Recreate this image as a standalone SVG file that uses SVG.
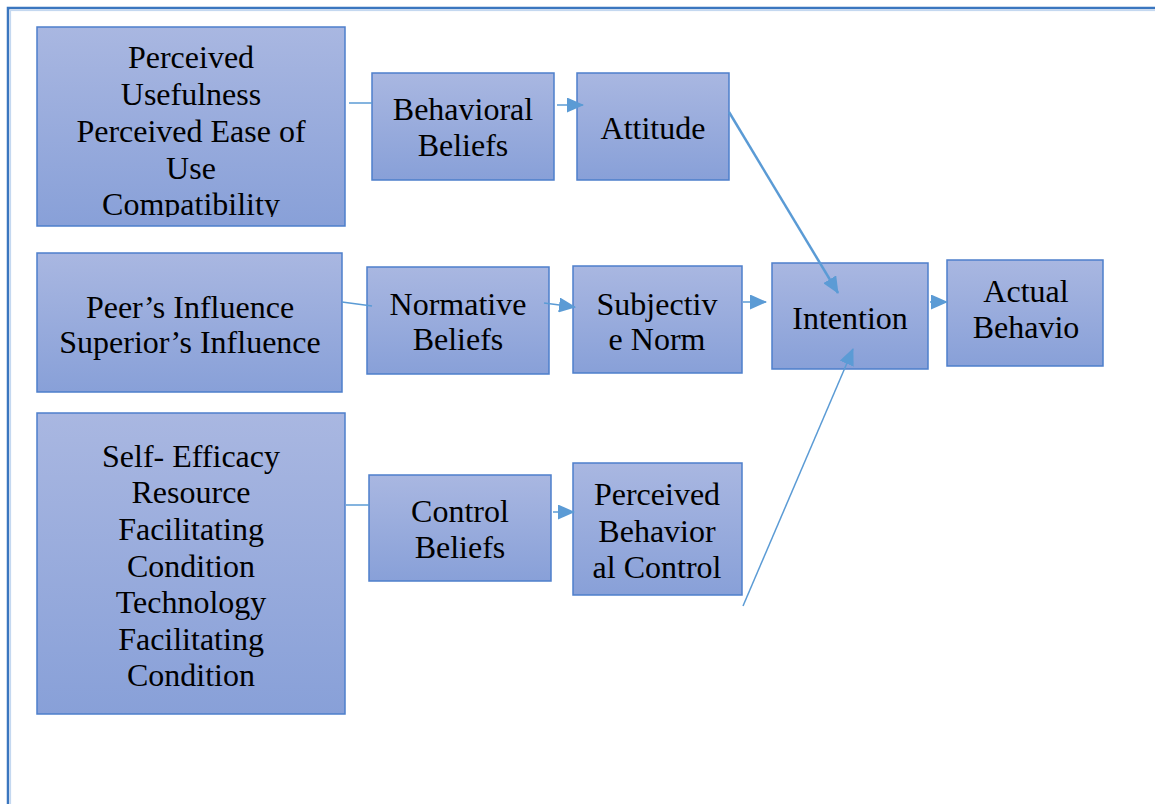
<svg xmlns="http://www.w3.org/2000/svg" width="1155" height="804" viewBox="0 0 1155 804">
<defs>
<linearGradient id="g" x1="0" y1="0" x2="0" y2="1">
<stop offset="0" stop-color="#a9b7e1"/>
<stop offset="1" stop-color="#88a0d8"/>
</linearGradient>
<marker id="ah" markerUnits="userSpaceOnUse" markerWidth="17" markerHeight="15" refX="16" refY="7.5" orient="auto">
<path d="M0,0 L17,7.5 L0,15 z" fill="#5b9bd5"/>
</marker>
<clipPath id="clipA"><rect x="37" y="27" width="308" height="190"/></clipPath>
</defs>
<style>
.box{fill:url(#g);stroke:#4d7fcb;stroke-width:1.5}
.t{font-family:"Liberation Serif","Times New Roman",serif;font-size:32px;fill:#000;text-anchor:middle}
.c{stroke:#5b9bd5;stroke-width:1.5;fill:none}
.ca{stroke:#5b9bd5;stroke-width:1.5;fill:none;marker-end:url(#ah)}
</style>
<rect width="1155" height="804" fill="#fff"/>
<rect x="8" y="8" width="1200" height="900" fill="none" stroke="#3a76bf" stroke-width="2.5"/>
<rect x="10.5" y="10.5" width="1200" height="900" fill="none" stroke="#c4d8f0" stroke-width="1.2"/>

<g id="n-pu">
<rect class="box" x="37" y="27" width="308" height="199"/>
<g clip-path="url(#clipA)">
<text class="t" x="191" y="68">Perceived</text>
<text class="t" x="191" y="105">Usefulness</text>
<text class="t" x="191" y="142">Perceived Ease of</text>
<text class="t" x="191" y="179">Use</text>
<text class="t" x="191" y="215">Compatibility</text>
</g>
</g>
<g id="n-bb">
<rect class="box" x="372" y="73" width="182" height="107"/>
<text class="t" x="463" y="120">Behavioral</text>
<text class="t" x="463" y="156">Beliefs</text>
</g>
<g id="n-att">
<rect class="box" x="577" y="73" width="152" height="107"/>
<text class="t" x="653" y="139">Attitude</text>
</g>
<g id="n-peer">
<rect class="box" x="37" y="253" width="305" height="139"/>
<text class="t" x="190" y="318">Peer’s Influence</text>
<text class="t" x="190" y="353">Superior’s Influence</text>
</g>
<g id="n-nb">
<rect class="box" x="367" y="267" width="182" height="107"/>
<text class="t" x="458" y="315">Normative</text>
<text class="t" x="458" y="350">Beliefs</text>
</g>
<g id="n-sn">
<rect class="box" x="573" y="266" width="169" height="107"/>
<text class="t" x="657" y="315">Subjectiv</text>
<text class="t" x="657" y="350">e Norm</text>
</g>
<g id="n-int">
<rect class="box" x="772" y="263" width="156" height="106"/>
<text class="t" x="850" y="329">Intention</text>
</g>
<g id="n-ab">
<rect class="box" x="947" y="260" width="156" height="106"/>
<text class="t" x="1026" y="302">Actual</text>
<text class="t" x="1026" y="338">Behavio</text>
</g>
<g id="n-se">
<rect class="box" x="37" y="413" width="308" height="301"/>
<text class="t" x="191" y="467">Self- Efficacy</text>
<text class="t" x="191" y="503">Resource</text>
<text class="t" x="191" y="540">Facilitating</text>
<text class="t" x="191" y="577">Condition</text>
<text class="t" x="191" y="613">Technology</text>
<text class="t" x="191" y="650">Facilitating</text>
<text class="t" x="191" y="686">Condition</text>
</g>
<g id="n-cb">
<rect class="box" x="369" y="475" width="182" height="106"/>
<text class="t" x="460" y="522">Control</text>
<text class="t" x="460" y="558">Beliefs</text>
</g>
<g id="n-pbc">
<rect class="box" x="573" y="463" width="169" height="132"/>
<text class="t" x="657" y="505">Perceived</text>
<text class="t" x="657" y="542">Behavior</text>
<text class="t" x="657" y="578">al Control</text>
</g>

<g id="connectors">
<line class="c" x1="349" y1="103" x2="372" y2="103"/>
<line class="ca" x1="557" y1="105" x2="583" y2="105"/>
<line class="ca" x1="729" y1="112" x2="838" y2="293" style="stroke-width:2.5"/>
<line class="c" x1="342" y1="302" x2="372" y2="306"/>
<line class="ca" x1="544" y1="303" x2="575" y2="307"/>
<line class="ca" x1="743" y1="302" x2="766" y2="302"/>
<line class="ca" x1="930" y1="302" x2="947" y2="302"/>
<line class="c" x1="346" y1="505" x2="369" y2="505"/>
<line class="ca" x1="553" y1="512" x2="574" y2="512"/>
<line class="ca" x1="743" y1="606" x2="853" y2="349"/>
</g>
</svg>
